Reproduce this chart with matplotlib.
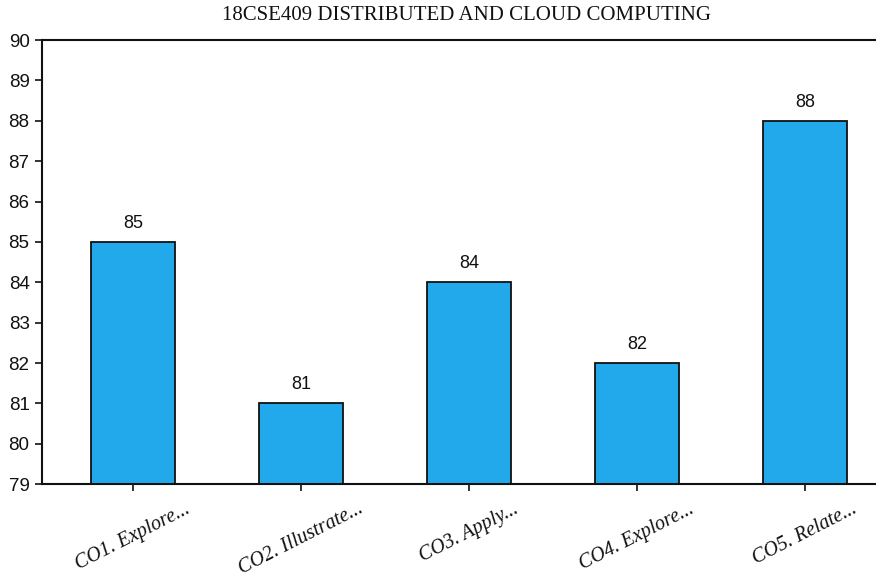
import numpy as np
import matplotlib
matplotlib.use('Agg')
import matplotlib.pyplot as plt

# Course outcomes and attainment values
categories = ['CO1. Explore...', 'CO2. Illustrate...', 'CO3. Apply...',
              'CO4. Explore...', 'CO5. Relate...']
values = [85, 81, 84, 82, 88]
yticks = list(range(79, 91))
title = '18CSE409 DISTRIBUTED AND CLOUD COMPUTING'

sans_narrow = ['Liberation Sans Narrow', 'Liberation Sans', 'DejaVu Sans']
serif = ['Liberation Serif', 'DejaVu Serif']

fig = plt.figure(figsize=(8.76, 5.84), dpi=100)
ax = fig.add_axes([0.048, 0.171, 0.952, 0.7605])

x = np.arange(len(categories))
bars = ax.bar(x, values, width=0.5, bottom=0, color='#22a9ec',
              edgecolor='#111111', linewidth=1.3, zorder=2)

for xi, v in zip(x, values):
    ax.text(xi, v + 0.25, str(v), ha='center', va='bottom',
            fontsize=13, family=sans_narrow, color='#111111')

ax.set_ylim(79, 90)
ax.set_xlim(-0.54, 4.42)
ax.set_yticks(yticks)
ax.set_yticklabels([str(t) for t in yticks], family=sans_narrow, fontsize=13.5)
ax.set_xticks(x)
ax.set_xticklabels(categories, rotation=27, ha='center', family=serif,
                   style='italic', fontsize=14.5)
ax.tick_params(axis='y', length=5, width=1.2, pad=4, colors='#111111')
ax.tick_params(axis='x', length=5, width=1.2, pad=6, colors='#111111')

ax.spines['right'].set_visible(False)
for s in ['left', 'bottom', 'top']:
    ax.spines[s].set_linewidth(1.5)
    ax.spines[s].set_color('#111111')

fig.text(466 / 876, 1 - 16 / 584, title, ha='center', va='center',
         family=serif, fontsize=15, color='#111111')

fig.savefig('out.png', dpi=100)
